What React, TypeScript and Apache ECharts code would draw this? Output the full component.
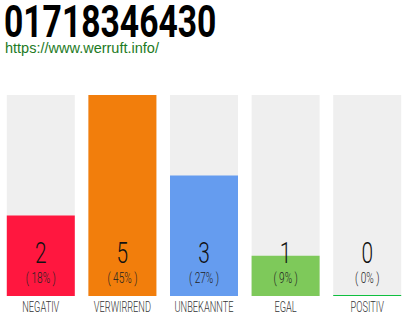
import React, { useEffect, useRef } from "react";
import * as echarts from "echarts";

const categories = ["NEGATIV", "VERWIRREND", "UNBEKANNTE", "EGAL", "POSITIV"];
const counts = [2, 5, 3, 1, 0];
const colors = ["#ff173f", "#f27e0c", "#659cef", "#7ec95a", "#0fbf3f"];
const titleText = "01718346430";
const urlText = "https://www.werruft.info/";

export default function App() {
  const ref = useRef<HTMLDivElement>(null);
  useEffect(() => {
    if (!ref.current) return;
    const chart = echarts.init(ref.current, undefined, { renderer: "svg" });
    const total = counts.reduce((a, b) => a + b, 0);
    const font = "Roboto, 'Liberation Sans', sans-serif";
    chart.setOption({
      animation: false,
      grid: { left: -2, width: 410, top: 95, bottom: 24 },
      xAxis: {
        type: "category",
        data: categories,
        axisLine: { show: false },
        axisTick: { show: false },
        axisLabel: { show: false },
      },
      yAxis: { type: "value", min: 0, max: 5, show: false, splitLine: { show: false } },
      graphic: [
        {
          type: "text",
          x: 4,
          y: 22,
          scaleX: 0.765,
          style: {
            text: titleText,
            fontFamily: font,
            fontWeight: "bold",
            fontSize: 44,
            lineHeight: 40,
            fill: "#000",
            verticalAlign: "middle",
          },
        },
        {
          type: "text",
          x: 5,
          y: 48,
          style: {
            text: urlText,
            fontFamily: "'Liberation Sans', Arial, sans-serif",
            fontSize: 14.5,
            fill: "#1d7a24",
            verticalAlign: "middle",
          },
        },
      ],
      series: [
        {
          type: "bar",
          barWidth: 68,
          barMinHeight: 1,
          showBackground: true,
          backgroundStyle: { color: "#efefef" },
          data: counts.map((v, i) => ({ value: v, itemStyle: { color: colors[i] } })),
        },
        {
          type: "custom",
          data: counts.map((v, i) => [i, v]),
          z: 10,
          renderItem: (params: any, api: any) => {
            const i = api.value(0);
            const v = api.value(1);
            const base = api.coord([i, 0]);
            const x = base[0];
            const y = base[1];
            const pct = total ? Math.round((v / total) * 100) : 0;
            return {
              type: "group",
              children: [
                {
                  type: "text",
                  x,
                  y: y - 43,
                  scaleX: 0.72,
                  style: {
                    text: String(v),
                    fontFamily: font,
                    fontWeight: 300,
                    fontSize: 29,
                    fill: "#111",
                    align: "center",
                    verticalAlign: "middle",
                  },
                },
                {
                  type: "text",
                  x,
                  y: y - 18,
                  scaleX: 0.72,
                  style: {
                    text: `( ${pct}% )`,
                    fontFamily: font,
                    fontWeight: 300,
                    fontSize: 14,
                    fill: "#222",
                    align: "center",
                    verticalAlign: "middle",
                  },
                },
                {
                  type: "text",
                  x,
                  y: y + 11,
                  scaleX: 0.66,
                  style: {
                    text: categories[i],
                    fontFamily: font,
                    fontWeight: 300,
                    fontSize: 14,
                    fill: "#333",
                    align: "center",
                    verticalAlign: "middle",
                  },
                },
              ],
            };
          },
        },
      ],
    });
    return () => chart.dispose();
  }, []);
  return <div ref={ref} style={{ width: 410, height: 320, position: "absolute", left: 0, top: 0 }} />;
}
